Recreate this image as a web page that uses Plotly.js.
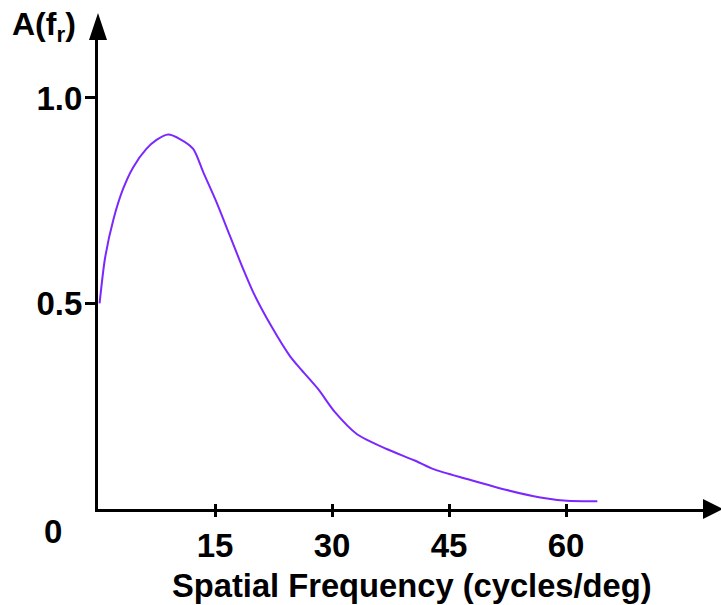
<!DOCTYPE html>
<html>
<head>
<meta charset="utf-8">
<script src="https://cdn.plot.ly/plotly-3.0.1.min.js"></script>
<style>html,body{margin:0;padding:0;background:#fff;}#chart{width:721px;height:605px;}</style>
</head>
<body>
<div id="chart"></div>
<script>
// Spatial frequency (cycles/deg)
const spatialFreq = [0.2, 0.9, 2.0, 3.2, 4.5, 6.2, 7.5, 9.0, 10.5, 12.2, 13.5, 15.2, 16.9, 18.6, 19.9, 22.3, 24.6, 25.9, 28.2, 30.4, 33.2, 37.0, 40.6, 43.0, 47.3, 52.4, 56.7, 60.1, 64.0];
// Amplitude A(f_r)
const amplitude = [0.50, 0.61, 0.706, 0.778, 0.831, 0.876, 0.898, 0.911, 0.900, 0.876, 0.819, 0.746, 0.665, 0.584, 0.527, 0.442, 0.372, 0.342, 0.292, 0.235, 0.182, 0.146, 0.118, 0.097, 0.073, 0.046, 0.028, 0.020, 0.019];

const xTickVals = [15, 30, 45, 60];
const xTickText = ['15', '30', '45', '60'];
const yTickVals = [0.5, 1.0];
const yTickText = ['0.5', '1.0'];
const originLabel = '0';
const xTitle = 'Spatial Frequency (cycles/deg)';
const yTitle = 'A(f<sub>r</sub>)';

const FONT = 'Liberation Sans, Arial, sans-serif';

const trace = {
  x: spatialFreq,
  y: amplitude,
  type: 'scatter',
  mode: 'lines',
  line: {color: 'rgb(122,40,255)', width: 2, shape: 'spline', smoothing: 0.7},
  hoverinfo: 'skip'
};
const dummy = {x: [], y: [], xaxis: 'x2', yaxis: 'y', type: 'scatter', mode: 'lines', showlegend: false};

const layout = {
  width: 721, height: 605,
  margin: {l: 98, r: 16, t: 40, b: 96},
  paper_bgcolor: '#fff', plot_bgcolor: '#fff',
  showlegend: false,
  font: {family: FONT, color: '#000'},
  xaxis: {
    range: [0, 77.8], fixedrange: true,
    showgrid: false, zeroline: false,
    showline: true, linecolor: '#000', linewidth: 3,
    tickvals: xTickVals, ticktext: xTickText,
    ticks: 'outside', ticklen: 5, tickwidth: 3, tickcolor: '#000',
    ticklabelstandoff: 0,
    tickfont: {family: FONT, size: 33, weight: 'bold', color: '#000'}
  },
  xaxis2: {
    overlaying: 'x', matches: 'x', anchor: 'y', side: 'bottom',
    range: [0, 77.8], fixedrange: true,
    showgrid: false, zeroline: false, showline: false,
    tickvals: xTickVals, showticklabels: false,
    ticks: 'inside', ticklen: 5, tickwidth: 3, tickcolor: '#000'
  },
  yaxis: {
    range: [0, 1.141], fixedrange: true,
    showgrid: false, zeroline: false,
    showline: true, linecolor: '#000', linewidth: 3,
    tickvals: yTickVals, ticktext: yTickText,
    ticks: 'outside', ticklen: 10, tickwidth: 3, tickcolor: '#000',
    ticklabelstandoff: -4,
    tickfont: {family: FONT, size: 33, weight: 'bold', color: '#000'}
  },
  annotations: [
    {x: 0, y: 0, xref: 'x', yref: 'y', text: originLabel, showarrow: false,
     xshift: -45, yshift: -22,
     font: {family: FONT, size: 33, weight: 'bold', color: '#000'}},
    {x: 0, y: 1, xref: 'paper', yref: 'paper', text: yTitle, showarrow: false,
     xanchor: 'left', yanchor: 'middle', xshift: -88, yshift: 14,
     font: {family: FONT, size: 32, weight: 'bold', color: '#000'}},
    {x: 0.5, y: 0, xref: 'paper', yref: 'paper', text: xTitle, showarrow: false,
     xanchor: 'center', yanchor: 'middle', xshift: 10, yshift: -76,
     font: {family: FONT, size: 32.7, weight: 'bold', color: '#000'}}
  ],
  shapes: [
    {type: 'path', xref: 'paper', yref: 'paper', xsizemode: 'pixel', ysizemode: 'pixel',
     xanchor: 0, yanchor: 1, path: 'M-9,0 L9,0 L0,27 Z',
     fillcolor: '#000', line: {width: 0}},
    {type: 'path', xref: 'paper', yref: 'paper', xsizemode: 'pixel', ysizemode: 'pixel',
     xanchor: 1, yanchor: 0, path: 'M-2,-10 L-2,10 L18,0 Z',
     fillcolor: '#000', line: {width: 0}}
  ]
};

Plotly.newPlot('chart', [trace, dummy], layout, {displayModeBar: false, staticPlot: true});
</script>
</body>
</html>
